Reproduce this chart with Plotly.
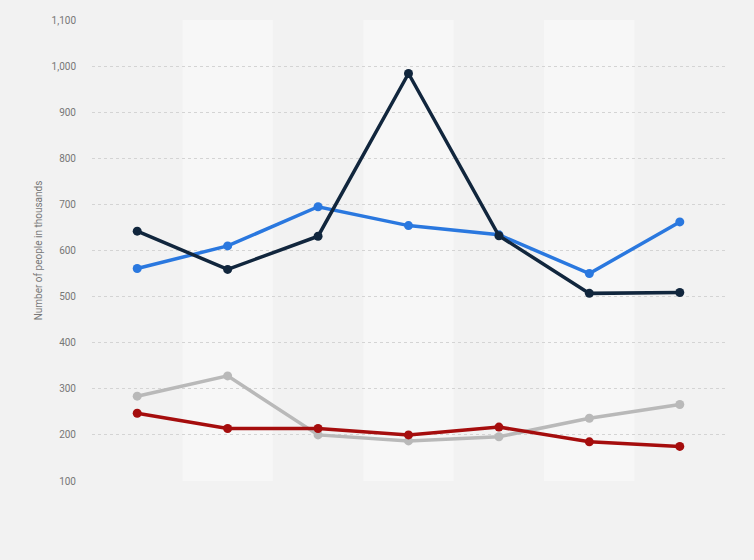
import plotly.graph_objects as go

categories = ["1", "2", "3", "4", "5", "6", "7"]
series_navy = [642, 559, 631, 984, 632, 507, 509]
series_blue = [561, 610, 695, 654, 634, 550, 662]
series_gray = [284, 328, 200, 187, 196, 236, 266]
series_red = [247, 214, 214, 200, 217, 185, 175]
y_ticks = [100, 200, 300, 400, 500, 600, 700, 800, 900, 1000, 1100]

fig = go.Figure()
for vals, col in [(series_gray, "#b9b9b9"), (series_red, "#a50d0d"),
                  (series_blue, "#2a78df"), (series_navy, "#11263d")]:
    fig.add_trace(go.Scatter(
        x=list(range(len(categories))), y=vals, mode="lines+markers",
        line=dict(color=col, width=3.5), marker=dict(color=col, size=9),
        showlegend=False, hoverinfo="y"))

for i in range(len(categories)):
    if i % 2 == 1:
        fig.add_shape(type="rect", xref="x", yref="paper", x0=i - 0.5, x1=i + 0.5,
                      y0=0, y1=1, fillcolor="#f7f7f7", line=dict(width=0), layer="below")

fig.update_layout(
    width=754, height=560,
    margin=dict(l=92, r=29, t=20, b=79),
    paper_bgcolor="#f2f2f2", plot_bgcolor="#f2f2f2",
    font=dict(family="Roboto, Liberation Sans, sans-serif", color="#777", size=10),
    xaxis=dict(range=[-0.5, len(categories) - 0.5], showticklabels=False,
               showgrid=False, zeroline=False, showline=False, ticks=""),
    yaxis=dict(range=[100, 1100], tickvals=y_ticks, tickformat=",d",
               showgrid=True, gridcolor="#d4d4d4", griddash="dot", gridwidth=1,
               zeroline=False, showline=False, ticks="", ticklabelstandoff=15,
               title=dict(text="Number of people in thousands", standoff=7,
                          font=dict(size=10, color="#777"))),
)
fig.write_html("out.html", config={"displayModeBar": False},
               post_script="document.body.style.margin='0';")
